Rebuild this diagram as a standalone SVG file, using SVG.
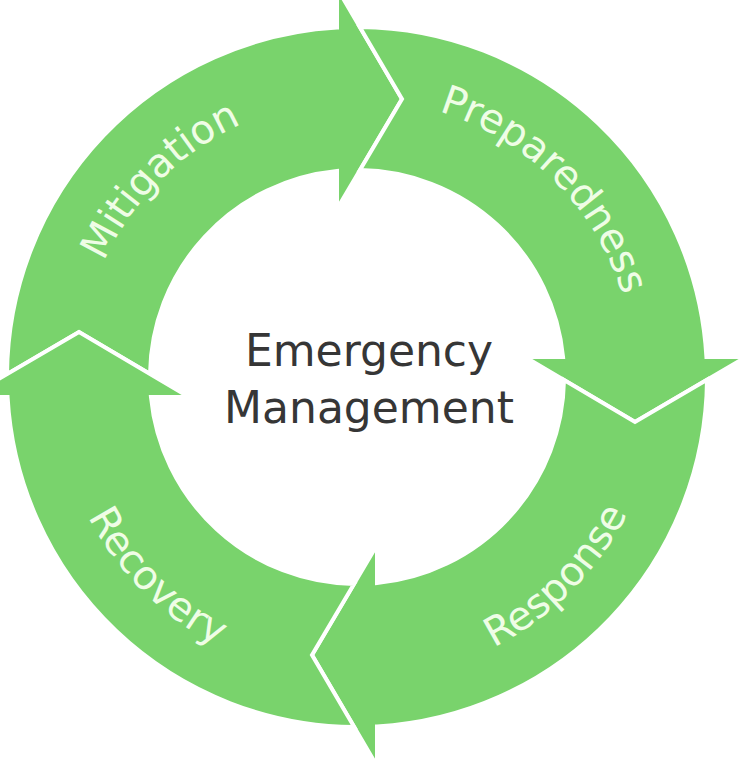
<svg xmlns="http://www.w3.org/2000/svg" xmlns:xlink="http://www.w3.org/1999/xlink" width="750" height="769" viewBox="0 0 750 769">
  <style>
    .seg { fill: #79d36c; stroke: #ffffff; stroke-width: 4; stroke-linejoin: miter; stroke-miterlimit: 10; }
    .lbl { font-family: "DejaVu Sans", "Liberation Sans", sans-serif; font-size: 40px; fill: #effde6; text-anchor: middle; }
    .title { font-family: "DejaVu Sans", "Liberation Sans", sans-serif; font-size: 44px; fill: #363636; text-anchor: middle; }
  </style>
  <defs>
    <path id="segShape" d="M -350 -2.8 A 350 350 0 0 1 -20 -349.43 L -20 -389 L 45 -278 L -20 -168 L -20 -206.03 A 207 207 0 0 0 -207 -3 L -278 -45 Z"/>
    <path id="arcMit" d="M 79 377 A 278 278 0 0 1 357 99"/>
    <path id="arcPrep" d="M 357 99 A 278 278 0 0 1 635 377"/>
    <path id="arcResp" d="M 357 680 A 303 303 0 0 0 660 377"/>
    <path id="arcRec" d="M 54 377 A 303 303 0 0 0 357 680"/>
  </defs>
  <rect width="750" height="769" fill="#ffffff"/>

  <g id="mitigation">
    <use href="#segShape" class="seg" transform="translate(357 377) rotate(0)"/>
    <text class="lbl"><textPath href="#arcMit" startOffset="50%">Mitigation</textPath></text>
  </g>
  <g id="preparedness">
    <use href="#segShape" class="seg" transform="translate(357 377) rotate(90)"/>
    <text class="lbl"><textPath href="#arcPrep" startOffset="50%">Preparedness</textPath></text>
  </g>
  <g id="response">
    <use href="#segShape" class="seg" transform="translate(357 377) rotate(180)"/>
    <text class="lbl"><textPath href="#arcResp" startOffset="50%">Response</textPath></text>
  </g>
  <g id="recovery">
    <use href="#segShape" class="seg" transform="translate(357 377) rotate(270)"/>
    <text class="lbl"><textPath href="#arcRec" startOffset="50%">Recovery</textPath></text>
  </g>

  <g id="center">
    <text class="title" x="369" y="366">Emergency</text>
    <text class="title" x="369" y="423">Management</text>
  </g>
</svg>
